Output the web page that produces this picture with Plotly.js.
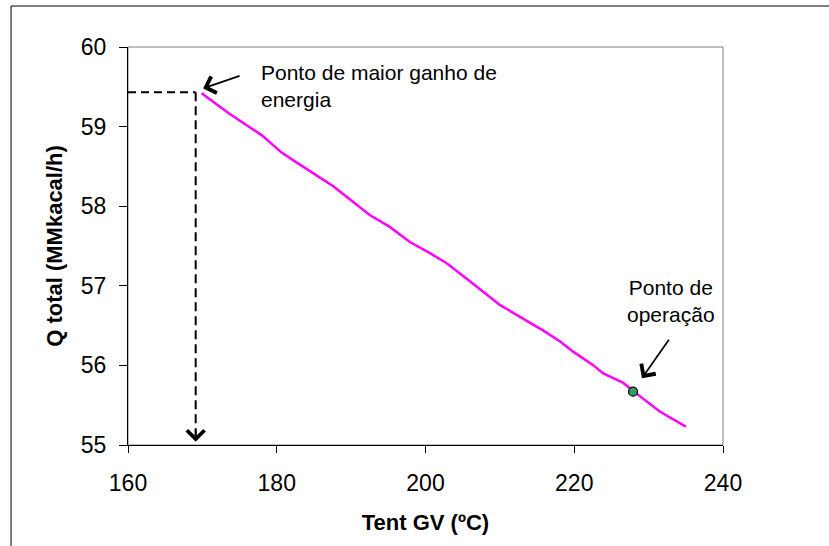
<!DOCTYPE html>
<html>
<head>
<meta charset="utf-8">
<script src="https://cdn.plot.ly/plotly-3.0.1.min.js"></script>
<style>html,body{margin:0;padding:0;background:#fff;}#chart{width:829px;height:546px;}</style>
</head>
<body>
<div id="chart"></div>
<script>
// Curve: Q total vs Tent GV
const tentGV = [169.9, 173.5, 178.0, 180.7, 182.5, 187.6, 189.9, 192.5, 195.2, 197.9, 200.6, 202.9, 205.8, 210.0, 212.7, 215.8, 218.1, 219.9, 222.6, 223.9, 226.6, 227.9, 231.5, 235.0];
const qTotal = [59.42, 59.17, 58.89, 58.67, 58.56, 58.25, 58.08, 57.89, 57.74, 57.55, 57.41, 57.28, 57.07, 56.76, 56.61, 56.44, 56.30, 56.17, 56.00, 55.90, 55.78, 55.68, 55.42, 55.23];
// Operating point
const opX = [227.9];
const opY = [55.67];
// Maximum gain point guide lines
const guideHX = [160, 169.1];
const guideHY = [59.43, 59.43];
const guideVX = [169.1, 169.1];
const guideVY = [59.43, 55.08];
const xTicks = [160, 180, 200, 220, 240];
const yTicks = [55, 56, 57, 58, 59, 60];

const FONT = '"Liberation Sans", Arial, sans-serif';

const traces = [
  {x: guideHX, y: guideHY, mode: 'lines', line: {color: '#000', width: 2, dash: '8px,5px'}, hoverinfo: 'skip', showlegend: false},
  {x: guideVX, y: guideVY, mode: 'lines', line: {color: '#000', width: 2, dash: '9px,5px'}, hoverinfo: 'skip', showlegend: false},
  {x: tentGV, y: qTotal, mode: 'lines', line: {color: '#FF00FF', width: 2.5}, showlegend: false},
  {x: opX, y: opY, mode: 'markers', marker: {color: '#339966', size: 9, line: {color: '#000', width: 1.2}}, showlegend: false}
];

const layout = {
  width: 829, height: 546, autosize: false,
  margin: {l: 128, r: 106, t: 47, b: 101},
  paper_bgcolor: '#fff', plot_bgcolor: '#fff',
  font: {family: FONT, color: '#000'},
  showlegend: false,
  xaxis: {
    range: [160, 240], tickvals: xTicks, ticktext: xTicks.map(String),
    ticks: 'outside', ticklen: 7, tickcolor: '#000', tickwidth: 1,
    showline: true, linecolor: '#000', linewidth: 1,
    showgrid: false, zeroline: false, automargin: false,
    tickfont: {family: FONT, size: 23, color: '#000'},
    ticklabelstandoff: 10,
    title: {text: '<b>Tent GV (ºC)</b>', font: {family: FONT, size: 22, color: '#000'}, standoff: 20}
  },
  yaxis: {
    range: [55, 60], tickvals: yTicks, ticktext: yTicks.map(String),
    ticks: 'outside', ticklen: 8, tickcolor: '#000', tickwidth: 1,
    showline: true, linecolor: '#000', linewidth: 1,
    showgrid: false, zeroline: false, automargin: false,
    tickfont: {family: FONT, size: 23, color: '#000'},
    ticklabelstandoff: 8,
    title: {text: '<b>Q total (MMkacal/h)</b>', font: {family: FONT, size: 22, color: '#000'}, standoff: 12}
  },
  shapes: [
    {type: 'rect', xref: 'paper', yref: 'paper', x0: 0, x1: 1, y0: 0, y1: 1, line: {color: '#808080', width: 1}, layer: 'below'},
    {type: 'rect', xref: 'paper', yref: 'paper', x0: -0.1966, x1: 1.25, y0: -0.35, y1: 1.1030, line: {color: '#000', width: 1}, layer: 'below'}
  ],
  annotations: [
    {x: 177.6, y: 59.51, xref: 'x', yref: 'y', text: 'Ponto de maior ganho de<br>energia', showarrow: false,
     xanchor: 'left', yanchor: 'middle', align: 'left', font: {family: FONT, size: 21, color: '#000'}},
    {x: 170.1, y: 59.48, xref: 'x', yref: 'y', text: '', showarrow: true, arrowhead: 4, arrowsize: 2, arrowwidth: 1.7,
     arrowcolor: '#000', ax: 38, ay: -13},
    {x: 233.0, y: 56.81, xref: 'x', yref: 'y', text: 'Ponto de<br>operação', showarrow: false,
     xanchor: 'center', yanchor: 'middle', align: 'center', font: {family: FONT, size: 21, color: '#000'}},
    {x: 229.1, y: 55.84, xref: 'x', yref: 'y', text: '', showarrow: true, arrowhead: 4, arrowsize: 2, arrowwidth: 1.7,
     arrowcolor: '#000', ax: 28, ay: -40},
    {x: 169.1, y: 55.04, xref: 'x', yref: 'y', text: '', showarrow: true, arrowhead: 4, arrowsize: 2, arrowwidth: 1.7,
     arrowcolor: '#000', ax: 0, ay: -14}
  ]
};

Plotly.newPlot('chart', traces, layout, {displayModeBar: false, staticPlot: true});
</script>
</body>
</html>
